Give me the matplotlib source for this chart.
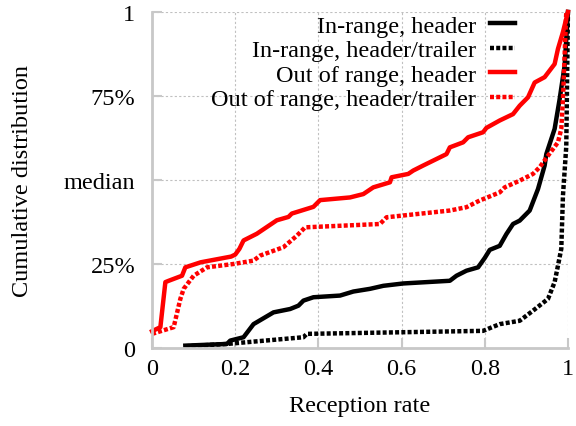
import matplotlib
matplotlib.use("Agg")
import matplotlib.pyplot as plt

# Out of range, header (red solid)
oor_hdr_x = [0.0, 0.02, 0.032, 0.04, 0.072, 0.08, 0.117, 0.19, 0.2, 0.21, 0.22, 0.252, 0.3, 0.328,
             0.336, 0.388, 0.404, 0.476, 0.508, 0.532, 0.572, 0.576, 0.616, 0.628, 0.652, 0.708,
             0.716, 0.748, 0.76, 0.796, 0.804, 0.836, 0.868, 0.884, 0.904, 0.92, 0.944, 0.968,
             0.976, 0.988, 1.0]
oor_hdr_y = [0.05, 0.062, 0.196, 0.2, 0.215, 0.24, 0.255, 0.272, 0.278, 0.295, 0.32, 0.34, 0.38, 0.39,
             0.40, 0.42, 0.44, 0.448, 0.458, 0.478, 0.493, 0.508, 0.518, 0.528, 0.543, 0.577,
             0.597, 0.612, 0.627, 0.642, 0.655, 0.677, 0.696, 0.721, 0.746, 0.79, 0.806, 0.845,
             0.89, 0.94, 1.0]

# Out of range, header/trailer (red dotted)
oor_ht_x = [0.0, 0.052, 0.068, 0.076, 0.1, 0.132, 0.196, 0.244, 0.26, 0.316, 0.348, 0.368, 0.548,
            0.564, 0.716, 0.756, 0.788, 0.836, 0.848, 0.884, 0.916, 0.932, 0.952, 0.976, 0.984,
            0.988, 0.996]
oor_ht_y = [0.042, 0.062, 0.146, 0.176, 0.215, 0.24, 0.25, 0.26, 0.275, 0.3, 0.334, 0.359, 0.369,
            0.389, 0.409, 0.419, 0.439, 0.463, 0.478, 0.498, 0.518, 0.538, 0.572, 0.612, 0.652,
            0.74, 1.0]

# In-range, header (black solid)
ir_hdr_x = [0.08, 0.18, 0.188, 0.22, 0.244, 0.292, 0.332, 0.352, 0.364, 0.388, 0.452, 0.484, 0.524,
            0.556, 0.604, 0.716, 0.732, 0.756, 0.784, 0.8, 0.812, 0.836, 0.852, 0.868, 0.884,
            0.908, 0.928, 0.944, 0.948, 0.968, 0.98, 0.992, 1.0]
ir_hdr_y = [0.007, 0.012, 0.022, 0.032, 0.071, 0.106, 0.116, 0.126, 0.141, 0.151, 0.156, 0.168, 0.176,
            0.185, 0.192, 0.2, 0.215, 0.23, 0.24, 0.268, 0.292, 0.304, 0.339, 0.369, 0.379,
            0.409, 0.473, 0.543, 0.577, 0.652, 0.74, 0.84, 1.0]

# In-range, header/trailer (black dotted)
ir_ht_x = [0.08, 0.18, 0.364, 0.372, 0.796, 0.836, 0.884, 0.916, 0.952, 0.968, 0.976, 0.984, 0.988,
           0.996, 1.0]
ir_ht_y = [0.005, 0.012, 0.032, 0.042, 0.051, 0.071, 0.081, 0.111, 0.146, 0.196, 0.245, 0.295, 0.453,
           0.6, 1.0]

y_ticks = [0, 0.25, 0.5, 0.75, 1]
y_tick_labels = ["0", "25%", "median", "75%", "1"]
x_ticks = [0, 0.2, 0.4, 0.6, 0.8, 1]
x_tick_labels = ["0", "0.2", "0.4", "0.6", "0.8", "1"]

plt.rcParams["font.family"] = ["Liberation Serif", "DejaVu Serif"]
plt.rcParams["font.size"] = 17.5

fig = plt.figure(figsize=(5.76, 4.27), dpi=100)
ax = fig.add_axes([0.264, 0.1827, 0.722, 0.787])

lw = 3.2
dots = (0, (0.9, 0.5))
ax.plot(ir_hdr_x, ir_hdr_y, color="black", lw=lw, label="In-range, header", clip_on=False)
ax.plot(ir_ht_x, ir_ht_y, color="black", lw=lw, linestyle=dots, dash_capstyle="butt",
        label="In-range, header/trailer", clip_on=False)
ax.plot(oor_hdr_x, oor_hdr_y, color="#ff0000", lw=lw, label="Out of range, header", clip_on=False)
ax.plot(oor_ht_x, oor_ht_y, color="#ff0000", lw=lw, linestyle=dots, dash_capstyle="butt",
        label="Out of range, header/trailer", clip_on=False)

ax.set_xlim(0, 1)
ax.set_ylim(0, 1)
ax.set_xticks(x_ticks)
ax.set_xticklabels(x_tick_labels)
ax.set_yticks(y_ticks)
ax.set_yticklabels(y_tick_labels)
ax.tick_params(direction="in", length=7, width=1.5, color="#c8c8c8")
ax.tick_params(axis="y", pad=12)
ax.tick_params(axis="x", pad=7)
ax.grid(True, color="#c0c0c0", linestyle=(0, (2, 2)), linewidth=0.8)
for side in ["top", "right"]:
    ax.spines[side].set_visible(False)
for side in ["left", "bottom"]:
    ax.spines[side].set_color("#c8c8c8")
    ax.spines[side].set_linewidth(2)

ax.set_xlabel("Reception rate", labelpad=12)
ax.set_ylabel("Cumulative distribution", labelpad=22)

ax.legend(loc="upper right", bbox_to_anchor=(0.895, 1.02), frameon=False, markerfirst=False,
          handlelength=1.0, handletextpad=0.6, labelspacing=0.1, borderaxespad=0.0,
          alignment="right")
leg = ax.get_legend()
for t in leg.get_texts():
    t.set_ha("right")

fig.savefig("out.png", dpi=100)
